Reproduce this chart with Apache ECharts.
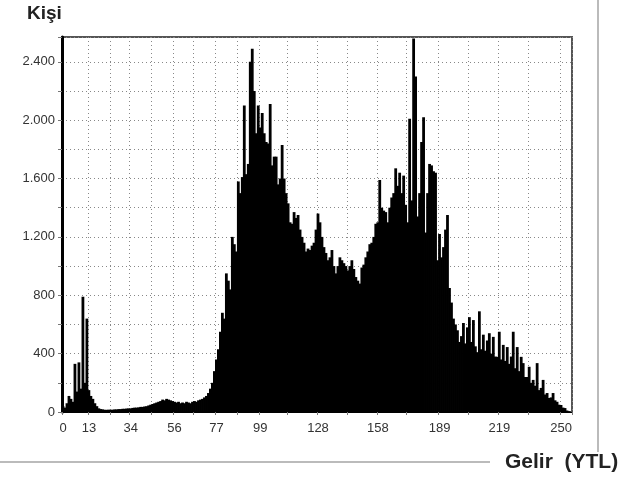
<!DOCTYPE html>
<html>
<head>
<meta charset="utf-8">
<script src="https://cdn.jsdelivr.net/npm/echarts@6/dist/echarts.min.js"></script>
<style>
  html, body { margin: 0; padding: 0; background: #fff; }
  #chart { width: 632px; height: 480px; }
</style>
</head>
<body>
<div id="chart"></div>
<script>
// gelir seviyesi 0..255, her biri icin kisi sayisi
const kisi = [
  40, 30, 60, 110, 90, 70, 330, 140, 340, 160,
  790, 200, 640, 150, 110, 90, 60, 40, 25, 20,
  18, 15, 15, 16, 15, 16, 18, 18, 20, 20,
  22, 22, 24, 25, 25, 28, 30, 30, 32, 35,
  35, 38, 40, 45, 50, 55, 60, 65, 70, 75,
  85, 80, 90, 85, 80, 75, 70, 65, 70, 60,
  65, 60, 70, 65, 60, 70, 75, 70, 80, 85,
  90, 100, 110, 130, 160, 200, 280, 360, 430, 550,
  680, 640, 950, 900, 840, 1200, 1150, 1100, 1580, 1500,
  1610, 2100, 1630, 1700, 2400, 2490, 2200, 1910, 2100, 1950,
  2050, 1910, 1850, 1840, 2110, 1690, 1750, 1750, 1560, 1600,
  1830, 1600, 1500, 1430, 1300, 1290, 1370, 1330, 1350, 1250,
  1200, 1160, 1100, 1120, 1110, 1140, 1160, 1250, 1360, 1300,
  1200, 1130, 1090, 1040, 1060, 1110, 1000, 950, 1000, 1060,
  1040, 1020, 1000, 970, 1000, 1040, 980, 925, 900, 880,
  990, 1010, 1060, 1100, 1150, 1160, 1200, 1290, 1300, 1590,
  1400, 1380, 1370, 1300, 1400, 1470, 1500, 1670, 1550, 1640,
  1500, 1620, 1420, 1300, 2010, 1450, 2560, 2300, 1340, 1500,
  1850, 2020, 1230, 1500, 1700, 1690, 1650, 1640, 1040, 1220,
  1060, 1130, 1250, 1350, 850, 750, 640, 600, 560, 480,
  520, 610, 470, 580, 650, 480, 630, 450, 410, 690,
  430, 530, 420, 490, 540, 400, 515, 380, 378, 550,
  360, 460, 350, 445, 330, 380, 550, 300, 445, 280,
  378, 335, 240, 240, 310, 200, 220, 180, 335, 150,
  165, 220, 120, 130, 96, 100, 130, 80, 70, 50,
  48, 30, 27, 10, 5, 0
];
const gelir = kisi.map((_, i) => i);
const xEtiketler = [0, 13, 34, 56, 77, 99, 128, 158, 189, 219, 250];
const xIzgara = [0, 13, 24, 34, 45, 56, 66, 77, 88, 99, 113, 128, 143, 158, 173, 189, 204, 219, 234, 250];

function binlik(v) {
  return String(v).replace(/\B(?=(\d{3})+(?!\d))/g, '.');
}

const chart = echarts.init(document.getElementById('chart'));
chart.setOption({
  animation: false,
  backgroundColor: '#fff',
  textStyle: { fontFamily: 'Liberation Sans, Arial, sans-serif' },
  grid: {
    left: 62, right: 60, top: 37, bottom: 68,
    show: true, borderColor: '#555', borderWidth: 2
  },
  xAxis: {
    type: 'category',
    data: gelir,
    boundaryGap: true,
    axisLine: { lineStyle: { color: '#000', width: 1 } },
    axisTick: {
      show: true, length: 3,
      interval: i => xIzgara.includes(i),
      lineStyle: { color: '#777' }
    },
    axisLabel: {
      interval: i => xEtiketler.includes(i),
      color: '#333', fontSize: 13, margin: 10
    },
    splitLine: {
      show: true,
      interval: i => xIzgara.includes(i),
      lineStyle: { color: '#888', type: [1, 3], width: 1 }
    }
  },
  yAxis: {
    type: 'value',
    min: 0, max: 2570, interval: 200,
    axisLine: { show: true, lineStyle: { color: '#000', width: 3 } },
    axisTick: { show: true, length: 4, lineStyle: { color: '#777' } },
    axisLabel: {
      color: '#333', fontSize: 13, margin: 7,
      formatter: v => (v % 400 === 0 && v <= 2400) ? binlik(v) : ''
    },
    splitLine: { lineStyle: { color: '#888', type: [1, 3], width: 1 } }
  },
  series: [{
    type: 'bar',
    data: kisi,
    barWidth: '140%',
    barGap: '-100%',
    itemStyle: { color: '#000' },
    silent: true
  }],
  graphic: [
    { type: 'text', left: 27, top: 4, style: { text: 'Kişi', fontSize: 19, fontWeight: 'bold', fill: '#222', fontFamily: 'Liberation Sans, Arial, sans-serif' } },
    { type: 'text', left: 505, top: 452, style: { text: 'Gelir  (YTL)', fontSize: 21, fontWeight: 'bold', fill: '#222', fontFamily: 'Liberation Sans, Arial, sans-serif' } },
    { type: 'line', shape: { x1: 0, y1: 462, x2: 490, y2: 462 }, style: { stroke: '#bbb', lineWidth: 2 } },
    { type: 'line', shape: { x1: 598, y1: 0, x2: 598, y2: 452 }, style: { stroke: '#bbb', lineWidth: 2 } }
  ]
});
</script>
</body>
</html>
